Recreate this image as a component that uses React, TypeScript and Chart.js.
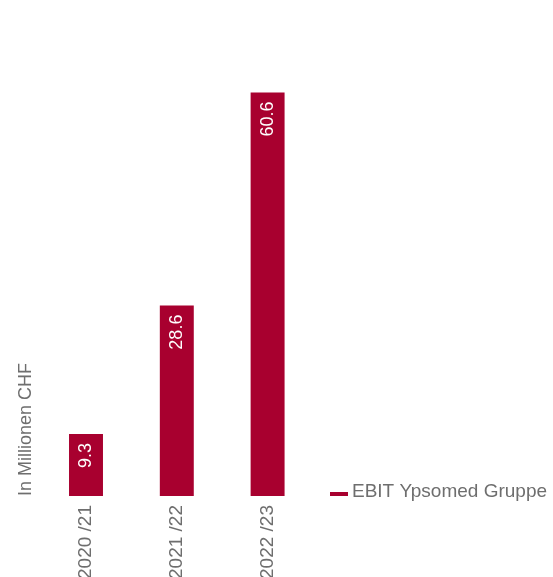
import React, { useEffect, useRef } from "react";
import { Chart, registerables } from "chart.js";

Chart.register(...registerables);

const categories: string[] = ["2020 /21", "2021 /22", "2022 /23"];
const ebitValues: number[] = [9.3, 28.6, 60.6];
const seriesLabel = "EBIT Ypsomed Gruppe";
const axisTitle = "In Millionen CHF";

const BAR_COLOR = "#a8002f";
const TEXT_COLOR = "#6e6e6e";
const FONT = "'Liberation Sans', Arial, sans-serif";

const valueLabelPlugin = {
  id: "valueLabels",
  afterDatasetsDraw(chart: any) {
    const ctx = chart.ctx;
    const meta = chart.getDatasetMeta(0);
    ctx.save();
    ctx.fillStyle = "#ffffff";
    ctx.font = `18px ${FONT}`;
    ctx.textAlign = "right";
    ctx.textBaseline = "middle";
    meta.data.forEach((bar: any, i: number) => {
      const v = chart.data.datasets[0].data[i];
      ctx.save();
      ctx.translate(bar.x, bar.y + 9);
      ctx.rotate(-Math.PI / 2);
      ctx.fillText(String(v), 0, 0);
      ctx.restore();
    });
    ctx.restore();
  },
};

const legendPlugin = {
  id: "customLegend",
  afterDraw(chart: any) {
    const ctx = chart.ctx;
    const area = chart.chartArea;
    const x = area.right + 17;
    const yBase = area.bottom;
    ctx.save();
    ctx.fillStyle = BAR_COLOR;
    ctx.fillRect(x, yBase - 4, 18, 4);
    ctx.fillStyle = TEXT_COLOR;
    ctx.font = `19px ${FONT}`;
    ctx.textAlign = "left";
    ctx.textBaseline = "alphabetic";
    ctx.fillText(chart.data.datasets[0].label, x + 22, yBase + 1);
    ctx.restore();
  },
};

export default function App() {
  const canvasRef = useRef<HTMLCanvasElement | null>(null);

  useEffect(() => {
    document.body.style.margin = "0";
    const canvas = canvasRef.current;
    if (!canvas) return;
    const chart = new Chart(canvas, {
      type: "bar",
      data: {
        labels: categories,
        datasets: [
          {
            label: seriesLabel,
            data: ebitValues,
            backgroundColor: BAR_COLOR,
            borderWidth: 0,
            barPercentage: 0.374,
            categoryPercentage: 1,
          },
        ],
      },
      options: {
        responsive: false,
        animation: false,
        devicePixelRatio: 1,
        layout: {
          padding: { top: 30, right: 240, left: 11, bottom: 0 },
        },
        plugins: {
          legend: { display: false },
          tooltip: { enabled: false },
        },
        scales: {
          x: {
            grid: { display: false, drawTicks: false },
            border: { display: false },
            ticks: {
              color: TEXT_COLOR,
              font: { family: FONT, size: 19 },
              minRotation: 90,
              maxRotation: 90,
              padding: 9,
            },
            afterFit(scale: any) {
              scale.height = 81;
            },
          },
          y: {
            min: 0,
            max: 70,
            grid: { display: false, drawTicks: false },
            border: { display: false },
            ticks: { display: false },
            title: {
              display: true,
              text: axisTitle,
              align: "start",
              color: TEXT_COLOR,
              font: { family: FONT, size: 18 },
              padding: { top: 4, bottom: 4 },
            },
          },
        },
      },
      plugins: [valueLabelPlugin, legendPlugin],
    });
    return () => chart.destroy();
  }, []);

  return (
    <div style={{ width: 553, height: 577 }}>
      <canvas ref={canvasRef} width={553} height={577} style={{ width: 553, height: 577, display: "block" }} />
    </div>
  );
}
